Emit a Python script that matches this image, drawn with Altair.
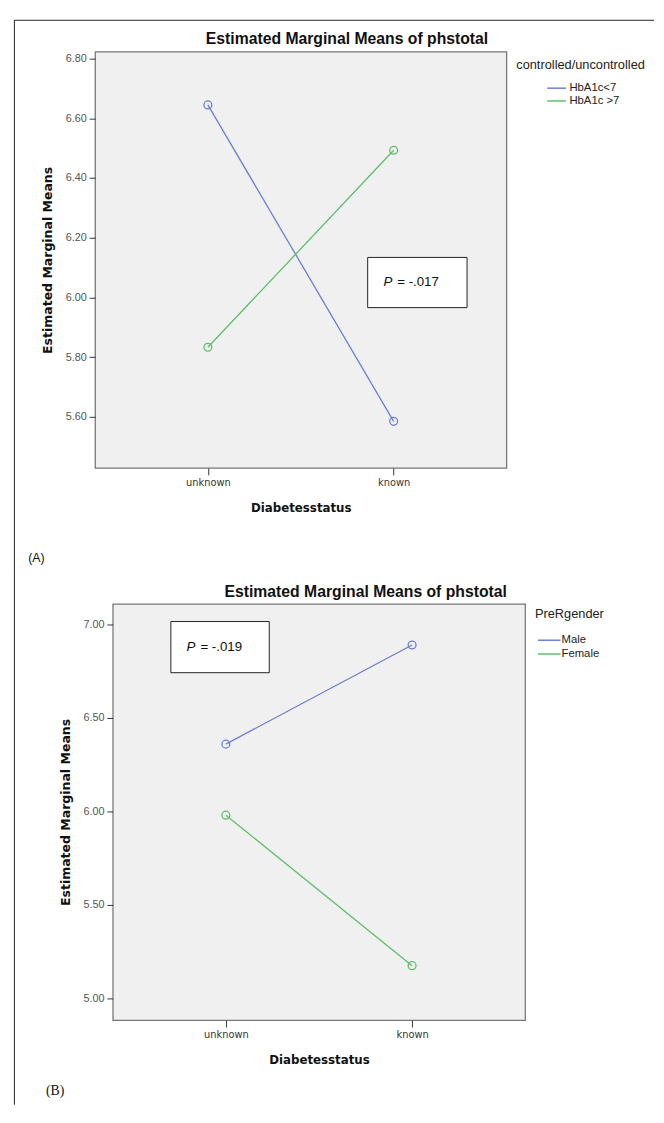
import altair as alt
import pandas as pd

# ---------------- data ----------------
status = ["unknown", "known"]
groups_a = ["HbA1c<7", "HbA1c >7"]
means_a_lt7 = [6.645, 5.585]
means_a_gt7 = [5.833, 6.493]
groups_b = ["Male", "Female"]
means_b_male = [6.36, 6.89]
means_b_female = [5.98, 5.175]
ticks_a = [5.6, 5.8, 6.0, 6.2, 6.4, 6.6, 6.8]
ticks_b = [5.0, 5.5, 6.0, 6.5, 7.0]
p_values = ["= -.017", "= -.019"]
panel_tags = ["(A)", "(B)"]
legend_titles = ["controlled/uncontrolled", "PreRgender"]
chart_title = "Estimated Marginal Means of phstotal"
x_title = "Diabetesstatus"
y_title = "Estimated Marginal Means"

BLUE = "#6b7fd1"
GREEN = "#5cbf6a"
SANS = "Liberation Sans"

df_a = pd.DataFrame({
    "status": status * 2,
    "group": [groups_a[0]] * 2 + [groups_a[1]] * 2,
    "mean": means_a_lt7 + means_a_gt7,
})
df_b = pd.DataFrame({
    "status": status * 2,
    "group": [groups_b[0]] * 2 + [groups_b[1]] * 2,
    "mean": means_b_male + means_b_female,
})
one = pd.DataFrame({"k": [0]})

W, H = 418, 423


def panel(df, groups, ticks, domain, legend_title, leg, pval, pbox, ptext_xy,
          tag, tag_xy, tag_font, title_xy, width, extra=None):
    x_enc = alt.X(
        "status:N", sort=status,
        scale=alt.Scale(type="point", padding=0.607, align=0.5),
        axis=alt.Axis(
            title=x_title, labelAngle=0, labelFont="DejaVu Sans", labelFontSize=10,
            labelColor="#333", labelPadding=3, tickSize=7, tickColor="#333",
            domain=False, grid=False,
            titleFont="DejaVu Sans", titleFontSize=12, titleFontWeight="bold",
            titleColor="#111", titleX=width / 2, titleY=40,
            titleBaseline="middle", titleAlign="center",
        ),
    )
    y_enc = alt.Y(
        "mean:Q",
        scale=alt.Scale(domain=domain, nice=False, zero=False),
        axis=alt.Axis(
            title=y_title, values=ticks, format=".2f", labelFont=SANS,
            labelFontSize=11, labelColor="#555", labelPadding=3, tickSize=6,
            tickColor="#333", domain=False, grid=False,
            titleFont="DejaVu Sans", titleFontSize=12.7, titleFontWeight="bold",
            titleColor="#111", titleX=-48, titleY=H / 2, titleAngle=270,
            titleBaseline="middle", titleAlign="center",
        ),
    )
    color_scale = alt.Scale(domain=groups, range=[BLUE, GREEN])
    base = alt.Chart(df).encode(x=x_enc, y=y_enc)
    lines = base.mark_line(strokeWidth=1.3).encode(
        color=alt.Color(
            "group:N", scale=color_scale, sort=groups,
            legend=alt.Legend(
                title=legend_title, orient="none",
                legendX=leg["x"], legendY=leg["y"],
                titleFont=SANS, titleFontSize=13, titleFontWeight="normal",
                titleColor="#222", labelFont=SANS, labelFontSize=11.5,
                labelColor="#222", symbolType=leg["path"], symbolSize=leg["size"],
                symbolStrokeWidth=1.5, symbolOffset=leg["soff"],
                labelOffset=leg["loff"], rowPadding=0,
                titlePadding=leg["tpad"], padding=0,
            ),
        )
    )
    points = base.mark_point(filled=False, size=64, strokeWidth=1.3, opacity=1).encode(
        color=alt.Color("group:N", scale=color_scale, sort=groups, legend=None)
    )
    box = alt.Chart(one).mark_rect(fill="white", stroke="#222", strokeWidth=1).encode(
        x=alt.value(pbox[0]), x2=alt.value(pbox[1]),
        y=alt.value(pbox[2]), y2=alt.value(pbox[3]),
    )
    p_it = alt.Chart(one).mark_text(
        text="P", font=SANS, fontSize=13.5, fontStyle="italic", align="left",
        baseline="middle", color="#111",
    ).encode(x=alt.value(ptext_xy[0]), y=alt.value(ptext_xy[2]))
    p_rest = alt.Chart(one).mark_text(
        text=pval, font=SANS, fontSize=13.5, align="left", baseline="middle",
        color="#111",
    ).encode(x=alt.value(ptext_xy[1]), y=alt.value(ptext_xy[2]))
    tag_mark = alt.Chart(one).mark_text(
        text=tag, font=tag_font[0], fontSize=tag_font[1], align="left",
        baseline="middle", color="#111",
    ).encode(x=alt.value(tag_xy[0]), y=alt.value(tag_xy[1]))
    title_mark = alt.Chart(one).mark_text(
        text=chart_title, font=SANS, fontSize=16, fontWeight="bold",
        align="center", baseline="middle", color="#111",
    ).encode(x=alt.value(title_xy[0]), y=alt.value(title_xy[1]))
    layers = [lines, points, box, p_it, p_rest, tag_mark, title_mark]
    if extra:
        layers += extra
    return alt.layer(*layers).properties(
        width=width, height=H,
        view=alt.ViewBackground(fill="#f0f0f0", stroke="#777777", strokeWidth=1.3),
    ).resolve_scale(color="shared")


# outer frame lines (decoration) drawn from the top panel
frame_left = alt.Chart(one).mark_rule(color="#222", strokeWidth=1).encode(
    x=alt.value(-82), y=alt.value(-32), y2=alt.value(1070)
)
frame_top = alt.Chart(one).mark_rule(color="#222", strokeWidth=1).encode(
    x=alt.value(-82), x2=alt.value(568), y=alt.value(-32)
)

leg_a = {"x": 428, "y": 7.5, "path": "M-1.46,0H1.46", "size": 169,
         "soff": 33.5, "loff": 5.5, "tpad": 9}
leg_b = {"x": 429, "y": 4.5, "path": "M-1.53,0H1.53", "size": 225,
         "soff": 6, "loff": 4, "tpad": 11}

top = panel(
    df_a, groups_a, ticks_a, [5.4286, 6.823], legend_titles[0], leg_a,
    p_values[0], (277, 378, 209, 260), (293, 307, 234),
    panel_tags[0], (-68, 515), (SANS, 12.5), (256, -13), W,
    extra=[frame_left, frame_top],
)
bottom = panel(
    df_b, groups_b, ticks_b, [4.884, 7.1105], legend_titles[1], leg_b,
    p_values[1], (59, 159, 18, 70), (75, 89, 44),
    panel_tags[1], (-68, 495), ("Liberation Serif", 14), (257, -12), 419,
)

spacer = alt.Chart(one).mark_point(opacity=0).encode(
    x=alt.value(0), y=alt.value(0)
).properties(width=18, height=10)

bottom_row = alt.hconcat(spacer, bottom, spacing=0, bounds="flush").resolve_scale(
    color="independent", x="independent", y="independent"
).resolve_legend(color="independent")

chart = alt.vconcat(top, bottom_row, spacing=138, bounds="flush").resolve_scale(
    color="independent", x="independent", y="independent"
).resolve_legend(color="independent").properties(
    padding={"left": 4.5, "top": 1.5, "right": 0, "bottom": 0},
    background="white",
).configure_view(stroke="transparent")

chart.save("out.html", embed_options={"renderer": "svg", "actions": False})
